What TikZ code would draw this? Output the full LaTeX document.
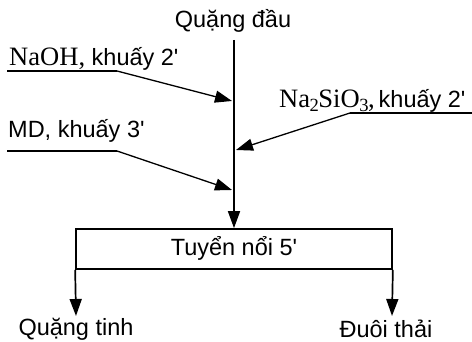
\documentclass[tikz,border=0pt]{standalone}
\usepackage{fontspec}
\setmainfont{Liberation Sans}
\newfontfamily\serifNa[Scale=1.13]{Liberation Serif}
\usetikzlibrary{arrows.meta}
\newcommand{\qs}{\textquotesingle}
\begin{document}
\begin{tikzpicture}[x=1pt,y=1pt,
  lbl/.style={font=\fontsize{23.5}{27}\selectfont, inner sep=0pt},
  flow/.style={line width=1.7pt},
  feed/.style={line width=1.3pt},
  tip/.style={-{Triangle[width=12pt,length=17pt]}}]
\useasboundingbox (0,0) rectangle (472,342);
% top
\node[lbl] (qd) at (233,321) {Quặng đầu};
\coordinate (vtop) at (234,302);
% process box
\node[draw, flow, minimum width=316pt, minimum height=40pt, inner sep=0pt] (box) at (234,93) {};
\node[lbl] (tn) at (234,94) {Tuyển nổi 5\qs};
\draw[flow, tip] (vtop) -- (box.north);
% feed points on vertical line
\coordinate (p1) at (232,241);
\coordinate (p2) at (236,192);
\coordinate (p3) at (232,152);
% NaOH
\node[lbl, anchor=base west] (naoh) at (9,276) {{\serifNa NaOH,} khuấy 2\qs};
\coordinate (u1a) at (7,271);
\coordinate (u1b) at (117,271);
\draw[feed] (u1a) -- (u1b);
\draw[feed, tip] (u1b) -- (p1);
% Na2SiO3
\node[lbl, anchor=base west] (nasi) at (279,234) {{\serifNa Na\kern-0.5pt\textsubscript{2}\kern-1pt SiO\kern-0.5pt\textsubscript{3}\kern-1pt,}\hspace{4pt}khuấy 2\qs};
\coordinate (u2a) at (472,229);
\coordinate (u2b) at (350,229);
\draw[feed] (u2a) -- (u2b);
\draw[feed, tip] (u2b) -- (p2);
% MD
\node[lbl, anchor=base west] (md) at (8,204) {MD, khuấy 3\qs};
\coordinate (u3a) at (7,191);
\coordinate (u3b) at (117,191);
\draw[feed] (u3a) -- (u3b);
\draw[feed, tip] (u3b) -- (p3);
% outputs
\node[lbl] (qt) at (76,13) {Quặng tinh};
\node[lbl] (dt) at (386,13) {Đuôi thải};
\coordinate (o1) at (76,26);
\coordinate (o2) at (392,26);
\draw[flow, tip] (box.south west) -- (o1);
\draw[flow, tip] (box.south east) -- (o2);
\end{tikzpicture}
\end{document}
